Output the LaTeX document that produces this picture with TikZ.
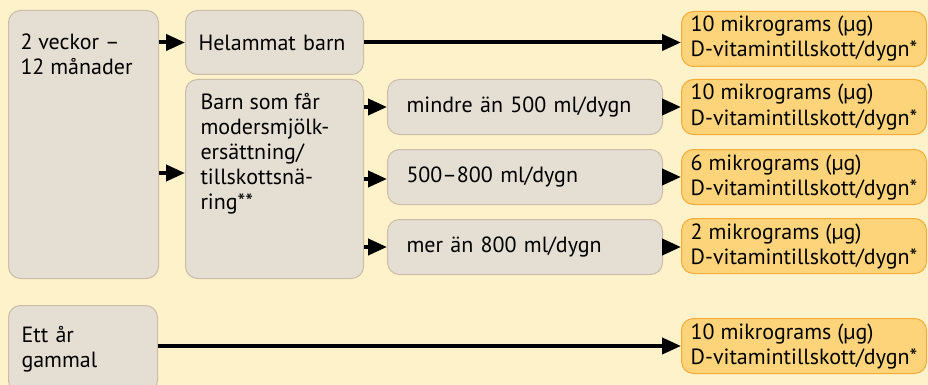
\documentclass[tikz,border=0pt]{standalone}
\usepackage{fontspec}
\setmainfont{PT Sans}
\usetikzlibrary{arrows.meta}
\definecolor{bgcream}{HTML}{FEF2CB}
\definecolor{grayfill}{HTML}{E4DED3}
\definecolor{grayline}{HTML}{CDBDA8}
\definecolor{dosefill}{HTML}{FED47A}
\definecolor{doseline}{HTML}{F5AB35}
\tikzset{
  graybox/.style={draw=grayline, fill=grayfill, line width=1pt, rounded corners=12pt,
    anchor=north west, align=left, inner ysep=0pt, font=\fontsize{22}{25}\selectfont},
  dosebox/.style={draw=doseline, fill=dosefill, line width=1pt, rounded corners=12pt,
    anchor=north west, align=left, inner xsep=0pt, inner ysep=0pt,
    minimum height=55pt, minimum width=245pt, font=\fontsize{22}{25}\selectfont},
  arr/.style={-{Triangle[length=19pt,width=16pt]}, line width=4pt},
}
\begin{document}
\begin{tikzpicture}[x=1pt,y=-1pt]
\useasboundingbox[fill=bgcream] (0,0) rectangle (928,385);
% left column
\node[graybox, inner xsep=12pt] (age) at (8,10)
  {\parbox[t][268pt][t]{126pt}{\vspace*{23pt}2 veckor –\\12 månader}};
\node[graybox, inner xsep=13pt, text width=123pt, minimum height=87pt] (ett) at (8,305) {Ett år\\gammal};
% feeding
\node[graybox, inner xsep=13pt, text width=152pt, minimum height=64pt] (help) at (185,10) {Helammat barn};
\node[graybox, inner xsep=15pt] (barn) at (185,79)
  {\parbox[t][199pt][t]{148pt}{\vspace*{14pt}Barn som får\\modersmjölk-\\ersättning/\\tillskottsnä-\\ring**}};
% amounts
\node[graybox, inner xsep=19pt, text width=237pt, minimum height=55pt] (less) at (387,79) {mindre än 500 ml/dygn};
\node[graybox, inner xsep=19pt, text width=237pt, minimum height=55pt] (mid) at (387,149) {500–800 ml/dygn};
\node[graybox, inner xsep=19pt, text width=237pt, minimum height=55pt] (more) at (387,219) {mer än 800 ml/dygn};
% doses
\node[dosebox] (dose1) at (681,11) {10 mikrograms (µg)\\D-vitamintillskott/dygn*};
\node[dosebox] (dose2) at (681,79) {10 mikrograms (µg)\\D-vitamintillskott/dygn*};
\node[dosebox] (dose3) at (681,149) {6 mikrograms (µg)\\D-vitamintillskott/dygn*};
\node[dosebox] (dose4) at (681,218) {2 mikrograms (µg)\\D-vitamintillskott/dygn*};
\node[dosebox] (dose5) at (681,318) {10 mikrograms (µg)\\D-vitamintillskott/dygn*};
% arrows
\draw[arr] (age.east |- help.west) -- (help.west);
\draw[arr] ([yshift=6pt]age.east |- barn.west) -- ([yshift=6pt]barn.west);
\draw[arr] (help.east) -- (help.east -| dose1.west);
\draw[arr] (barn.east |- less.west) -- (less.west);
\draw[arr] ([yshift=-2pt]barn.east |- mid.west) -- ([yshift=-2pt]mid.west);
\draw[arr] (barn.east |- more.west) -- (more.west);
\draw[arr] (less.east) -- (less.east -| dose2.west);
\draw[arr] (mid.east) -- (mid.east -| dose3.west);
\draw[arr] (more.east) -- (more.east -| dose4.west);
\draw[arr] (ett.east |- dose5.west) -- (dose5.west);
\end{tikzpicture}
\end{document}
